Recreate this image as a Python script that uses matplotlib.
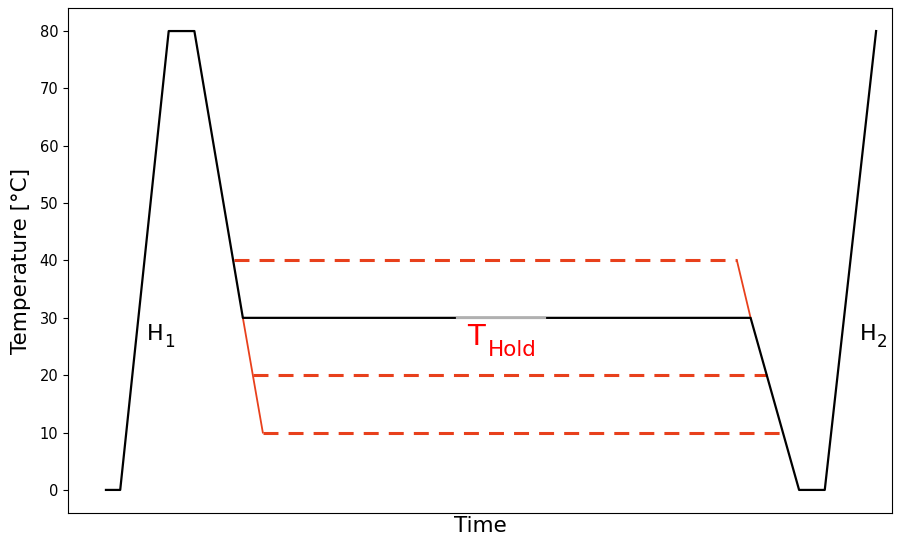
import numpy as np
import matplotlib.pyplot as plt

# main profile (time in arbitrary units, temperature in C)
t_main = [0, 5, 22, 31, 48, 226, 243, 252, 270]
T_main = [0, 0, 80, 80, 30, 30, 0, 0, 80]

# alternative hold temperatures (dashed) and their ramps
t_40 = [44.9, 221.2]
t_20 = [51.5, 231.8]
t_10 = [55.0, 237.4]
ramp_down_t = [48, 51.5, 55.0]
ramp_down_T = [30, 20, 10]
ramp_up_t = [221.2, 226]
ramp_up_T = [40, 30]

# grey highlight on the hold segment
t_grey = [123, 154]

red = '#e8401c'

fig = plt.figure(figsize=(9.02, 5.41), dpi=100)
ax = fig.add_axes([0.0754, 0.052, 0.9136, 0.933])

ax.plot(t_main, T_main, color='black', lw=1.6, zorder=3)
ax.plot(t_grey, [30, 30], color='#b0b0b0', lw=1.6, zorder=4)

for tt, T in [(t_40, 40), (t_20, 20), (t_10, 10)]:
    ax.plot(tt, [T, T], color=red, lw=2.2, dashes=(4.9, 3.3), zorder=2)
ax.plot(ramp_down_t, ramp_down_T, color=red, lw=1.3, zorder=2)
ax.plot(ramp_up_t, ramp_up_T, color=red, lw=1.3, zorder=2)

# labels with a subscript, built from two texts
def sub_label(x, y, main, sub, size, subsize, dx, dy, color='black'):
    ax.text(x, y, main, fontsize=size, color=color,
            ha='left', va='baseline')
    ax.annotate(sub, xy=(x, y), xytext=(dx, dy), textcoords='offset points',
                fontsize=subsize, color=color,
                ha='left', va='baseline')

sub_label(14.3, 26.2, 'H', '1', 16, 12, 12.2, -5)
sub_label(264.3, 26.2, 'H', '2', 16, 12, 12.2, -5)
sub_label(126.5, 25.3, 'T', 'Hold', 21, 15.5, 15, -7.8, color='red')

ax.set_xlim(-13.3, 275.6)
ax.set_ylim(-4, 84)
ax.set_xticks([])
ax.set_yticks(range(0, 81, 10))
ax.tick_params(axis='y', labelsize=10.5)
ax.set_ylabel('Temperature [°C]', fontsize=15.5, labelpad=6)
ax.set_xlabel('Time', fontsize=15.5, labelpad=2)

fig.savefig('out.png', dpi=100)
